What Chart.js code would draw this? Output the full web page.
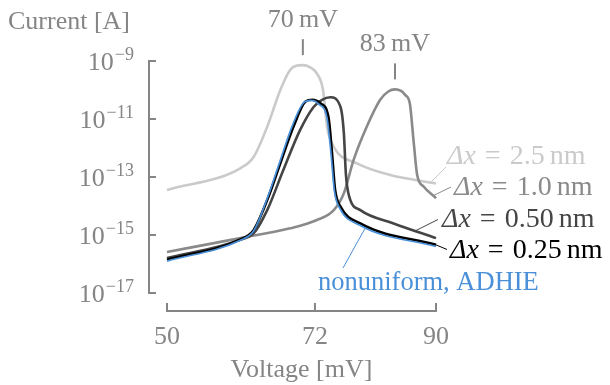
<!DOCTYPE html>
<html><head><meta charset="utf-8">
<script src="https://cdn.jsdelivr.net/npm/chart.js@4"></script>
<style>html,body{margin:0;padding:0;background:#fff}</style>
</head><body>
<canvas id="c" width="610" height="385"></canvas>
<script>
// ---- data ----
const xTicks = [50, 72, 90];
const yTickExponents = [-17, -15, -13, -11, -9];

const seriesLabels = ["nonuniform, ADHIE", "0.25", "0.50", "1.0", "2.5"];

const voltage_2p5 = [50, 60.9, 62.9, 64.9, 66.85, 68.3, 69.2, 70.2, 71.3, 72.3, 73.2, 73.8, 74.8, 78.25, 83.2, 90];
const current_2p5 = [3.55e-14, 2.0e-13, 5.0e-13, 5.4e-12, 1.0e-10, 4.9e-10, 6.8e-10, 7.2e-10, 6.0e-10, 3.7e-10, 1.0e-10, 5.4e-12, 1.1e-12, 2.95e-13, 1.17e-13, 6.0e-14];

const voltage_1p0 = [50, 60.9, 68.3, 72.3, 74.8, 76.3, 77.75, 79.7, 81.7, 82.9, 83.9, 84.8, 85.4, 86.1, 86.7, 87.2, 88.15, 90];
const current_1p0 = [2.6e-16, 7.8e-16, 1.7e-15, 3.3e-15, 7.2e-15, 2.75e-14, 3.9e-13, 5.4e-12, 4.6e-11, 8.9e-11, 1.05e-10, 9.3e-11, 6.8e-11, 3.5e-11, 1.45e-12, 1.17e-13, 4.7e-14, 1.86e-14];

const voltage_0p50 = [50, 60.9, 62.9, 64.9, 67.3, 69.8, 71.8, 73.05, 74.3, 75.8, 76.3, 76.6, 77.1, 78.75, 83.7, 90];
const current_0p50 = [1.6e-16, 6.8e-16, 1.15e-15, 7.2e-15, 1.74e-13, 4.2e-12, 2.6e-11, 4.6e-11, 5.6e-11, 2.6e-11, 3.2e-12, 1.26e-13, 2.1e-14, 7.2e-15, 2.5e-15, 7.8e-16];

const voltage_0p25 = [50, 60.9, 62.9, 64.9, 66.85, 68.8, 70.6, 71.6, 72.8, 74.0, 74.5, 75.0, 75.8, 78.75, 90];
const current_0p25 = [1.4e-16, 7.1e-16, 1.5e-15, 1.6e-14, 2.95e-13, 5.4e-12, 4.0e-11, 4.6e-11, 3.5e-11, 1.2e-11, 8.5e-13, 3.55e-14, 9.5e-15, 2.5e-15, 4.6e-16];

const voltage_nonuniform = [50, 60.9, 62.9, 64.8, 66.7, 68.6, 70.4, 71.4, 72.6, 73.8, 74.35, 74.9, 75.7, 78.6, 90];
const current_nonuniform = [1.26e-16, 6.6e-16, 1.4e-15, 1.58e-14, 3.0e-13, 5.6e-12, 3.8e-11, 4.4e-11, 3.2e-11, 1.05e-11, 7.9e-13, 3.2e-14, 8.3e-15, 2.2e-15, 4.0e-16];

const peakLabels = ["70\u2009mV", "83\u2009mV"];

// ---- styling / layout ----
const FONT = '"Liberation Serif", "DejaVu Serif", serif';
const AXIS_COLOR = '#858585';
const colors = {
  nonuniform: '#4a90d9', p25: '#000000', p50: '#454545', p10: '#8a8a8a', p25nm: '#cacaca'
};

function pts(xs, ys) { return xs.map((x, i) => ({ x: x, y: ys[i] })); }

const datasets = [
  { label: seriesLabels[0], data: pts(voltage_nonuniform, current_nonuniform), borderColor: colors.nonuniform, borderWidth: 1.7, order: 0 },
  { label: seriesLabels[1], data: pts(voltage_0p25, current_0p25), borderColor: colors.p25, borderWidth: 2.6, order: 1 },
  { label: seriesLabels[2], data: pts(voltage_0p50, current_0p50), borderColor: colors.p50, borderWidth: 2.6, order: 2 },
  { label: seriesLabels[3], data: pts(voltage_1p0, current_1p0), borderColor: colors.p10, borderWidth: 2.6, order: 3 },
  { label: seriesLabels[4], data: pts(voltage_2p5, current_2p5), borderColor: colors.p25nm, borderWidth: 2.6, order: 4 }
].map(d => Object.assign(d, { pointRadius: 0, fill: false, cubicInterpolationMode: 'monotone', clip: false, borderJoinStyle: 'round', borderCapStyle: 'butt' }));

// label layout: which dataset, anchor voltage on its curve, leader end offset from chart right edge, text position
const labelLayout = [
  { ds: 4, anchorV: 89.2, endDx: 10, endY: 167, textDx: 11, baseY: 164, value: '2.5', color: '#cacaca', lineColor: '#cacaca' },
  { ds: 3, anchorV: 89.6, endDx: 15, endY: 187, textDx: 18, baseY: 195, value: '1.0', color: '#8a8a8a', lineColor: '#8a8a8a' },
  { ds: 2, anchorV: 86.9, endDx: 2, endY: 219.5, textDx: 6, baseY: 227, value: '0.50', color: '#454545', lineColor: '#454545' },
  { ds: 1, anchorV: 89.9, endDx: 11, endY: 249.5, textDx: 14, baseY: 258, value: '0.25', color: '#000000', lineColor: '#000000' }
];

function interpAt(ds, v) {
  const d = ds.data;
  for (let i = 0; i < d.length - 1; i++) {
    if (v >= d[i].x && v <= d[i + 1].x) {
      const t = (v - d[i].x) / (d[i + 1].x - d[i].x);
      return Math.pow(10, Math.log10(d[i].y) + t * (Math.log10(d[i + 1].y) - Math.log10(d[i].y)));
    }
  }
  return d[d.length - 1].y;
}

const decor = {
  id: 'decor',
  afterDraw(chart) {
    const ctx = chart.ctx, xs = chart.scales.x, ys = chart.scales.y, ca = chart.chartArea;
    ctx.save();
    // axes
    ctx.strokeStyle = AXIS_COLOR; ctx.lineWidth = 2; ctx.lineCap = 'butt';
    const ax = ca.left - 18, ay = ca.bottom + 18;
    const yTop = ys.getPixelForValue(Math.pow(10, yTickExponents[yTickExponents.length - 1]));
    const yBot = ys.getPixelForValue(Math.pow(10, yTickExponents[0]));
    ctx.beginPath(); ctx.moveTo(ax, yTop - 1); ctx.lineTo(ax, yBot + 1); ctx.stroke();
    yTickExponents.forEach(e => {
      const py = ys.getPixelForValue(Math.pow(10, e));
      ctx.beginPath(); ctx.moveTo(ax - 1, py); ctx.lineTo(ax + 7, py); ctx.stroke();
    });
    const xL = xs.getPixelForValue(xTicks[0]), xR = xs.getPixelForValue(xTicks[xTicks.length - 1]);
    ctx.beginPath(); ctx.moveTo(xL - 1, ay); ctx.lineTo(xR + 1, ay); ctx.stroke();
    xTicks.forEach(v => {
      const px = xs.getPixelForValue(v);
      ctx.beginPath(); ctx.moveTo(px, ay + 1); ctx.lineTo(px, ay - 8); ctx.stroke();
    });
    // y tick labels
    ctx.fillStyle = AXIS_COLOR; ctx.textBaseline = 'alphabetic';
    yTickExponents.forEach(e => {
      const py = ys.getPixelForValue(Math.pow(10, e));
      const sup = '\u2212' + Math.abs(e);
      ctx.font = '18px ' + FONT;
      const sw = ctx.measureText(sup).width;
      const right = ax - 15;
      ctx.textAlign = 'left';
      ctx.fillText(sup, right - sw, py - 1);
      ctx.font = '26px ' + FONT;
      ctx.textAlign = 'right';
      ctx.fillText('10', right - sw - 1, py + 9);
    });
    // x tick labels
    ctx.font = '26px ' + FONT; ctx.textAlign = 'center';
    xTicks.forEach(v => ctx.fillText(String(v), xs.getPixelForValue(v), ay + 33));
    // titles
    ctx.fillText('Voltage [mV]', (xL + xR) / 2, 377);
    ctx.textAlign = 'left';
    ctx.fillText('Current [A]', 8, 29);
    // peak annotations
    [4, 3].forEach((dsIdx, k) => {
      const d = chart.data.datasets[dsIdx].data;
      let m = d[0];
      d.forEach(p => { if (p.y > m.y) m = p; });
      const px = xs.getPixelForValue(m.x), py = ys.getPixelForValue(m.y);
      ctx.beginPath(); ctx.moveTo(px, py - 10); ctx.lineTo(px, py - 26); ctx.stroke();
      ctx.textAlign = 'center'; ctx.font = '26px ' + FONT;
      ctx.fillText(peakLabels[k], px, py - 38);
    });
    // right-side series labels
    labelLayout.forEach(L => {
      const ds = chart.data.datasets[L.ds];
      const sx = xs.getPixelForValue(L.anchorV), sy = ys.getPixelForValue(interpAt(ds, L.anchorV));
      ctx.strokeStyle = L.lineColor; ctx.lineWidth = 1;
      ctx.beginPath(); ctx.moveTo(sx, sy); ctx.lineTo(ca.right + L.endDx, L.endY); ctx.stroke();
      let x = ca.right + L.textDx;
      ctx.fillStyle = L.color; ctx.textAlign = 'left';
      ctx.font = 'italic 28px ' + FONT;
      ctx.fillText('\u0394x', x, L.baseY); x += ctx.measureText('\u0394x').width + 9;
      ctx.font = '28px ' + FONT;
      ctx.fillText('=', x, L.baseY); x += ctx.measureText('=').width + 9;
      ctx.fillText(L.value, x, L.baseY); x += ctx.measureText(L.value).width + 5;
      ctx.fillText('nm', x, L.baseY);
    });
    // nonuniform label
    {
      const ds = chart.data.datasets[0];
      const v = 79.5;
      const sx = xs.getPixelForValue(v), sy = ys.getPixelForValue(interpAt(ds, v));
      ctx.strokeStyle = colors.nonuniform; ctx.lineWidth = 1;
      ctx.beginPath(); ctx.moveTo(sx, sy + 1); ctx.lineTo(ca.right - 93, 268); ctx.stroke();
      ctx.fillStyle = colors.nonuniform; ctx.font = '26.5px ' + FONT; ctx.textAlign = 'left';
      ctx.fillText(seriesLabels[0], ca.right - 118, 290);
    }
    ctx.restore();
  }
};

new Chart(document.getElementById('c'), {
  type: 'line',
  data: { datasets: datasets },
  options: {
    responsive: false, animation: false, devicePixelRatio: 1,
    layout: { padding: { left: 167, right: 174, top: 61, bottom: 92 } },
    plugins: { legend: { display: false }, tooltip: { enabled: false } },
    events: [],
    scales: {
      x: { type: 'linear', min: 50, max: 90, display: false },
      y: { type: 'logarithmic', min: 1e-17, max: 1e-9, display: false }
    }
  },
  plugins: [decor]
});
</script>
</body></html>
